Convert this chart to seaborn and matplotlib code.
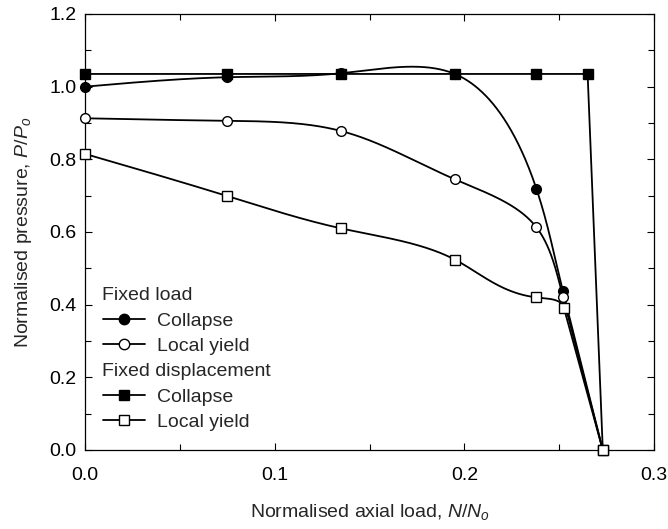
import numpy as np
import pandas as pd
import matplotlib
matplotlib.use("Agg")
import matplotlib.pyplot as plt
import seaborn as sns
from matplotlib.lines import Line2D
from matplotlib.ticker import MultipleLocator

# ---- data ----
x_load = [0.0, 0.075, 0.135, 0.195, 0.238, 0.252, 0.273]
load_collapse = [1.000, 1.026, 1.037, 1.035, 0.719, 0.437, 0.0]
load_yield = [0.913, 0.906, 0.878, 0.745, 0.613, 0.422, 0.0]

x_disp_collapse = [0.0, 0.075, 0.135, 0.195, 0.238, 0.265, 0.273]
disp_collapse = [1.035, 1.035, 1.035, 1.035, 1.035, 1.035, 0.0]

x_disp_yield = [0.0, 0.075, 0.135, 0.195, 0.238, 0.2525, 0.273]
disp_yield = [0.815, 0.699, 0.610, 0.524, 0.420, 0.391, 0.0]

legend_labels = ["Fixed load", "Collapse", "Local yield",
                 "Fixed displacement", "Collapse", "Local yield"]


def _spline_M(t, y, end_slope):
    """Second derivatives: natural at start, clamped slope at end."""
    n = len(t)
    h = np.diff(t)
    A = np.zeros((n, n))
    b = np.zeros(n)
    A[0, 0] = 1.0
    for i in range(1, n - 1):
        A[i, i - 1] = h[i - 1]
        A[i, i] = 2 * (h[i - 1] + h[i])
        A[i, i + 1] = h[i]
        b[i] = 6 * ((y[i + 1] - y[i]) / h[i] - (y[i] - y[i - 1]) / h[i - 1])
    A[-1, -2] = h[-1]
    A[-1, -1] = 2 * h[-1]
    b[-1] = 6 * (end_slope - (y[-1] - y[-2]) / h[-1])
    return h, np.linalg.solve(A, b)


def _eval(t, y, h, M, tt):
    idx = np.clip(np.searchsorted(t, tt, side="right") - 1, 0, len(t) - 2)
    ti, ti1, hi = t[idx], t[idx + 1], h[idx]
    Mi, Mi1, yi, yi1 = M[idx], M[idx + 1], y[idx], y[idx + 1]
    return (Mi * (ti1 - tt) ** 3 / (6 * hi) + Mi1 * (tt - ti) ** 3 / (6 * hi)
            + (yi / hi - Mi * hi / 6) * (ti1 - tt) + (yi1 / hi - Mi1 * hi / 6) * (tt - ti))


def param_spline(x, y, sx=569 / 0.3, sy=436 / 1.2, n=800):
    """Smooth parametric spline through all but the last point; straight final segment."""
    x = np.asarray(x, float)
    y = np.asarray(y, float)
    px, py = x * sx, y * sy
    dx, dy = px[-1] - px[-2], py[-1] - py[-2]
    L = np.hypot(dx, dy)
    ux, uy = dx / L, dy / L
    qx, qy = px[:-1], py[:-1]
    seg = np.hypot(np.diff(qx), np.diff(qy))
    t = np.concatenate([[0], np.cumsum(seg)])
    tt = np.linspace(0, t[-1], n)
    hx, Mx = _spline_M(t, qx, ux)
    hy, My = _spline_M(t, qy, uy)
    cx = np.append(_eval(t, qx, hx, Mx, tt), px[-1])
    cy = np.append(_eval(t, qy, hy, My, tt), py[-1])
    return cx / sx, cy / sy


sns.set_style("ticks")
plt.rcParams["font.family"] = ["Liberation Sans", "DejaVu Sans"]
plt.rcParams["mathtext.fontset"] = "custom"
plt.rcParams["mathtext.rm"] = "Liberation Sans"
plt.rcParams["mathtext.it"] = "Liberation Sans:italic"

fig = plt.figure(figsize=(6.68, 5.29), dpi=100)
ax = fig.add_axes([85 / 668, 1 - 450 / 529, 569 / 668, 436 / 529])

lw = 1.3
ms = 7

# curves
for xx, yy in [(x_load, load_collapse), (x_load, load_yield), (x_disp_yield, disp_yield)]:
    sx_, sy_ = param_spline(xx, yy)
    sns.lineplot(x=sx_, y=sy_, ax=ax, color="black", lw=lw, sort=False, estimator=None)
sns.lineplot(x=x_disp_collapse, y=disp_collapse, ax=ax, color="black", lw=lw,
             sort=False, estimator=None)

# markers
ax.plot(x_disp_collapse, disp_collapse, ls="none", marker="s", ms=ms,
        mfc="black", mec="black", zorder=5, clip_on=False)
ax.plot(x_load, load_collapse, ls="none", marker="o", ms=ms,
        mfc="black", mec="black", zorder=5, clip_on=False)
ax.plot(x_load, load_yield, ls="none", marker="o", ms=ms,
        mfc="white", mec="black", mew=1.0, zorder=5, clip_on=False)
ax.plot(x_disp_yield, disp_yield, ls="none", marker="s", ms=ms,
        mfc="white", mec="black", mew=1.0, zorder=6, clip_on=False)

ax.xaxis.set_minor_locator(MultipleLocator(0.05))
ax.yaxis.set_minor_locator(MultipleLocator(0.1))
xt = [0.0, 0.1, 0.2, 0.3]
yt = [0.0, 0.2, 0.4, 0.6, 0.8, 1.0, 1.2]
ax.set_xticks(xt)
ax.set_yticks(yt)
ax.set_xticklabels([f"{v:.1f}" for v in xt])
ax.set_yticklabels([f"{v:.1f}" for v in yt])
ax.set_xlim(0, 0.3)
ax.set_ylim(0, 1.2)
ax.tick_params(which="both", direction="in", top=True, right=True,
               labelsize=14, colors="black", width=0.8)
ax.tick_params(axis="x", which="major", length=5, pad=12)
ax.tick_params(axis="y", which="major", length=5, pad=6)
ax.tick_params(which="minor", length=4)
for s in ax.spines.values():
    s.set_visible(True)
    s.set_linewidth(0.9)
    s.set_color("black")

ax.set_xlabel("Normalised axial load, $\\mathit{N/N_o}$", fontsize=14, labelpad=13)
ax.set_ylabel("Normalised pressure, $\\mathit{P/P_o}$", fontsize=14, labelpad=11)

blank = Line2D([], [], ls="none", marker=None)
handles = [
    blank,
    Line2D([], [], color="black", lw=lw, marker="o", ms=ms + 0.5, mfc="black", mec="black"),
    Line2D([], [], color="black", lw=lw, marker="o", ms=ms + 0.5, mfc="white", mec="black"),
    blank,
    Line2D([], [], color="black", lw=lw, marker="s", ms=ms + 0.5, mfc="black", mec="black"),
    Line2D([], [], color="black", lw=lw, marker="s", ms=ms + 0.5, mfc="white", mec="black"),
]
leg = ax.legend(handles, legend_labels, loc="lower left", bbox_to_anchor=(0.0, 0.003),
                frameon=False, fontsize=14, handlelength=2.2, handletextpad=0.62,
                labelspacing=0.4, borderaxespad=0.5)
for i, t in enumerate(leg.get_texts()):
    if i in (0, 3):
        t.set_position((-55, 0))

fig.savefig("out.png", dpi=100)
